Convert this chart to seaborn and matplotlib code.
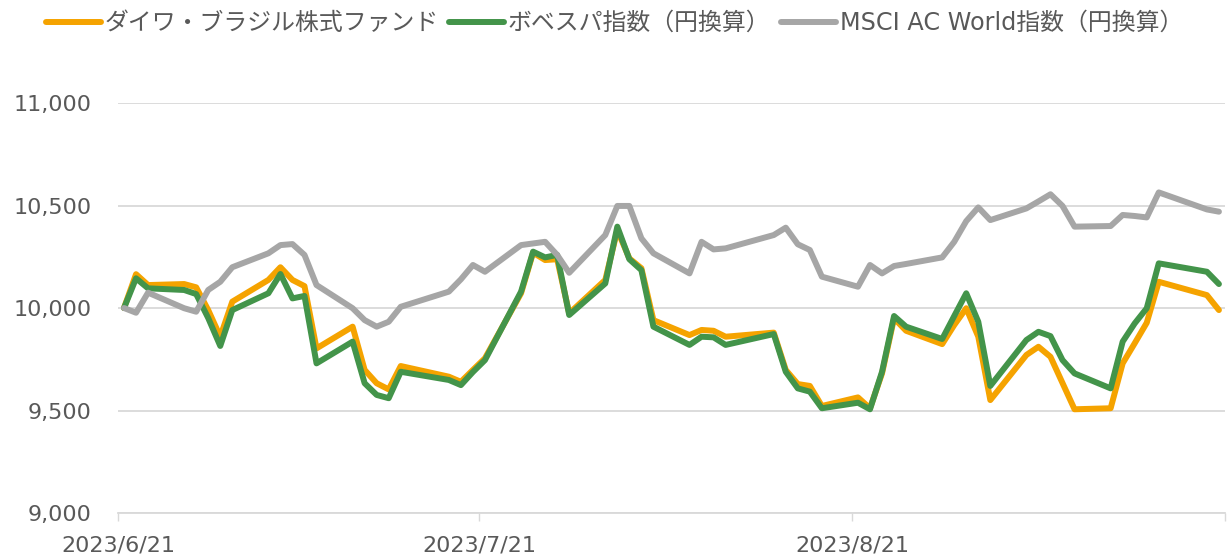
#Recreation of the fund vs index performance line chart (indexed to 10,000)

#import packages
import pandas as pd
import matplotlib
matplotlib.use('Agg')
from matplotlib import pyplot as plt
import seaborn as sns

#trading dates
dates = ['2023-06-21', '2023-06-22', '2023-06-23', '2023-06-26', '2023-06-27', '2023-06-28', '2023-06-29', '2023-06-30',
         '2023-07-03', '2023-07-04', '2023-07-05', '2023-07-06', '2023-07-07',
         '2023-07-10', '2023-07-11', '2023-07-12', '2023-07-13', '2023-07-14',
         '2023-07-18', '2023-07-19', '2023-07-20', '2023-07-21',
         '2023-07-24', '2023-07-25', '2023-07-26', '2023-07-27', '2023-07-28',
         '2023-07-31', '2023-08-01', '2023-08-02', '2023-08-03', '2023-08-04',
         '2023-08-07', '2023-08-08', '2023-08-09', '2023-08-10',
         '2023-08-14', '2023-08-15', '2023-08-16', '2023-08-17', '2023-08-18',
         '2023-08-21', '2023-08-22', '2023-08-23', '2023-08-24', '2023-08-25',
         '2023-08-28', '2023-08-29', '2023-08-30', '2023-08-31', '2023-09-01',
         '2023-09-04', '2023-09-05', '2023-09-06', '2023-09-07', '2023-09-08',
         '2023-09-11', '2023-09-12', '2023-09-13', '2023-09-14', '2023-09-15',
         '2023-09-19', '2023-09-20']

#series values (indexed, start = 10,000)
fund = [10000, 10165, 10112, 10117, 10101, 9990, 9860, 10031,
        10137, 10199, 10137, 10107, 9803,
        9909, 9698, 9633, 9603, 9717,
        9665, 9640, 9698, 9755,
        10072, 10270, 10234, 10238, 9974,
        10137, 10380, 10242, 10194, 9941,
        9868, 9893, 9889, 9860,
        9880, 9698, 9629, 9620, 9522,
        9564, 9511, 9681, 9950, 9889,
        9824, 9917, 9999, 9860, 9551,
        9771, 9811, 9762, 9634, 9506,
        9511, 9730, 9828, 9928, 10128,
        10063, 9990]

bovespa = [10000, 10145, 10096, 10088, 10068, 9951, 9815, 9990,
           10072, 10166, 10047, 10059, 9730,
           9836, 9633, 9576, 9560, 9689,
           9649, 9624, 9688, 9746,
           10080, 10275, 10247, 10259, 9966,
           10120, 10397, 10238, 10185, 9909,
           9820, 9860, 9857, 9820,
           9873, 9689, 9608, 9592, 9511,
           9538, 9506, 9689, 9961, 9909,
           9849, 9961, 10072, 9933, 9620,
           9844, 9884, 9863, 9746, 9681,
           9608, 9836, 9925, 9999, 10218,
           10177, 10117]

msci = [10000, 9977, 10075, 9999, 9982, 10088, 10128, 10199,
        10267, 10307, 10312, 10259, 10112,
        9999, 9941, 9909, 9933, 10006,
        10080, 10140, 10210, 10177,
        10307, 10315, 10323, 10259, 10172,
        10356, 10498, 10498, 10340, 10267,
        10169, 10323, 10286, 10291,
        10356, 10392, 10311, 10283, 10153,
        10104, 10210, 10169, 10205, 10215,
        10247, 10323, 10424, 10491, 10429,
        10486, 10520, 10555, 10498, 10397,
        10400, 10454, 10449, 10442, 10564,
        10481, 10470]

names = ['ダイワ・ブラジル株式ファンド', 'ボベスパ指数（円換算）', 'MSCI AC World指数（円換算）']
colors = ['#F5A300', '#43944A', '#A6A6A6']
y_ticks = [9000, 9500, 10000, 10500, 11000]
x_ticks = ['2023-06-21', '2023-07-21', '2023-08-21', '2023-09-21']

#build a long dataframe for seaborn
wide = pd.DataFrame({names[0]: fund, names[1]: bovespa, names[2]: msci})
wide['date'] = pd.to_datetime(dates) + pd.Timedelta(hours=12)  #points sit in the middle of each day
long = wide.melt(id_vars='date', var_name='series', value_name='value')

sns.set_theme(style='white')
plt.rcParams['font.family'] = ['DejaVu Sans', 'Noto Sans CJK JP']

fig, ax = plt.subplots(figsize=(12.29, 5.57), dpi=100)
fig.subplots_adjust(left=0.096, right=0.9967, top=0.815, bottom=0.079)

sns.lineplot(data=long, x='date', y='value', hue='series', hue_order=names,
             palette=colors, linewidth=4.3, ax=ax)
for line in ax.get_lines():
    line.set_solid_joinstyle('round')

#axes styling
ax.set_ylim(9000, 11000)
ax.set_yticks(y_ticks)
ax.set_yticklabels([f'{v:,}' for v in y_ticks])
tick_dates = pd.to_datetime(x_ticks)
ax.set_xlim(tick_dates[0], tick_dates[-1])
ax.set_xticks(tick_dates)
ax.set_xticklabels([f'{d.year}/{d.month}/{d.day}' for d in tick_dates[:-1]] + [''])
ax.set(xlabel='', ylabel='')

ax.yaxis.grid(True, color='#D9D9D9', linewidth=1.3)
ax.xaxis.grid(False)
ax.set_axisbelow(True)
for side in ['top', 'right', 'left']:
    ax.spines[side].set_visible(False)
ax.spines['bottom'].set_color('#D9D9D9')
ax.spines['bottom'].set_linewidth(1.3)

ax.tick_params(axis='x', bottom=True, length=6, width=1, color='#D9D9D9',
               pad=10, labelsize=16, labelcolor='#595959')
ax.tick_params(axis='y', left=False, length=0, pad=19, labelsize=16, labelcolor='#595959')

#legend on top
handles, labels = ax.get_legend_handles_labels()
ax.get_legend().remove()
fig.legend(handles, labels, loc='center', bbox_to_anchor=(0.5, 1 - 23 / 557), ncol=3,
           frameon=False, fontsize=17.2, handlelength=2.3, handletextpad=0.15,
           columnspacing=0.45, labelcolor='#595959')

fig.savefig('out.png', dpi=100)
